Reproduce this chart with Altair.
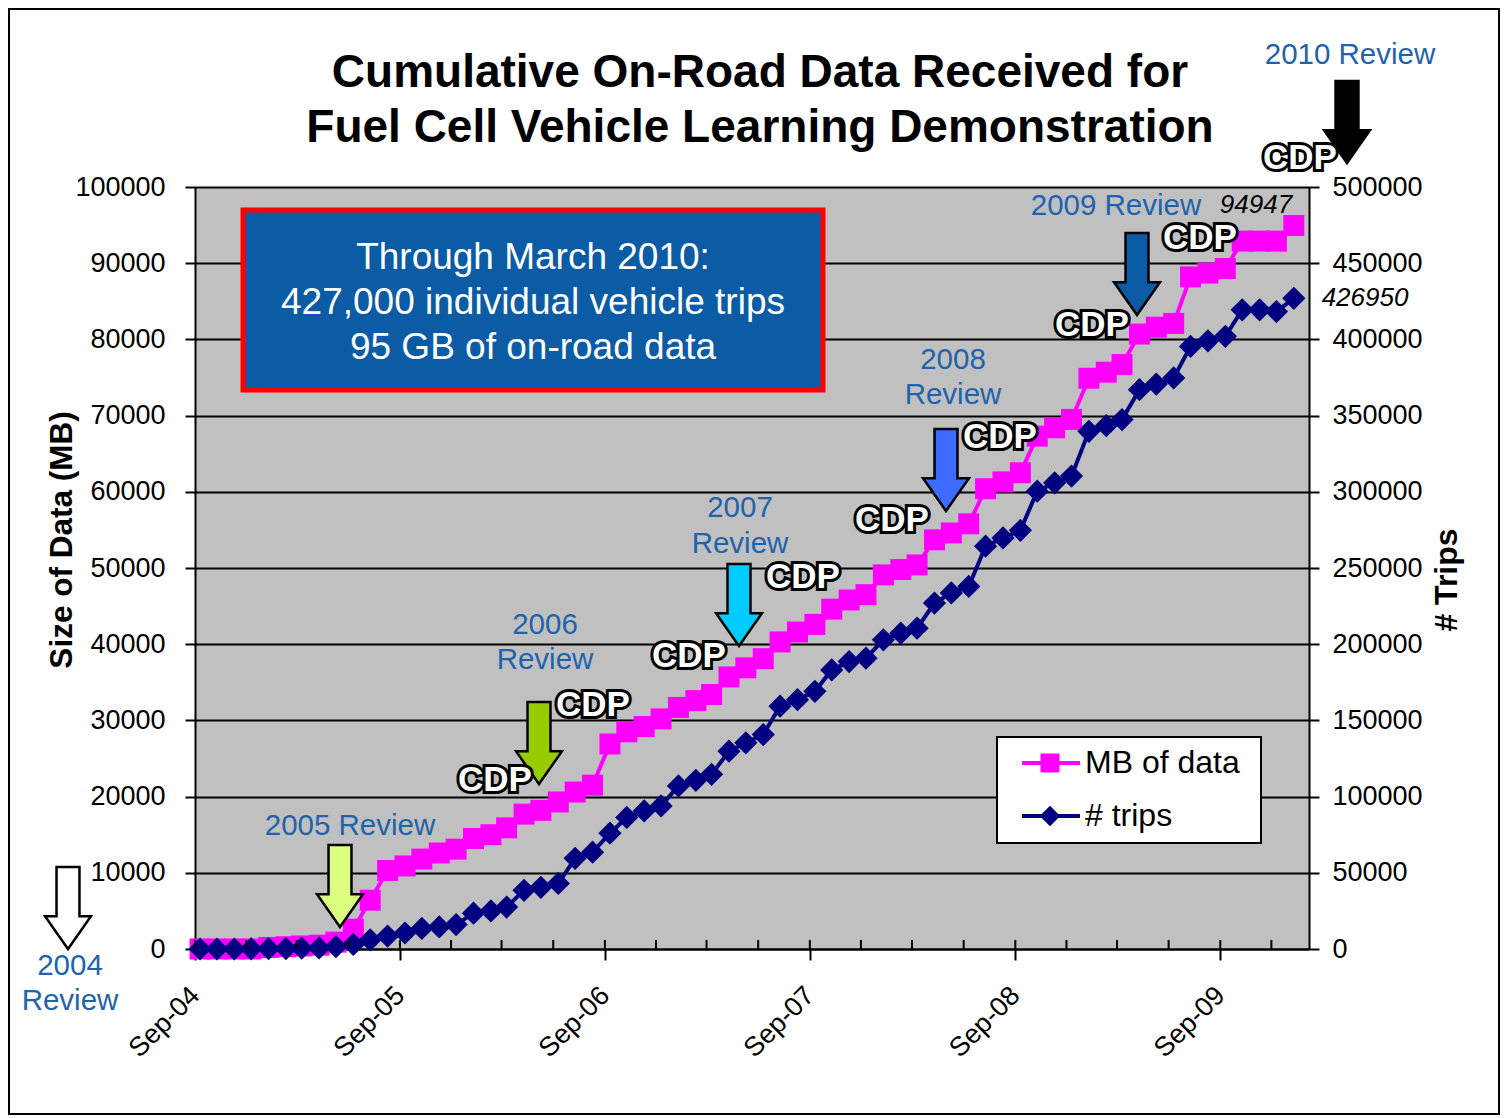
import altair as alt
import pandas as pd

# ---------------- data ----------------
months = [d.strftime("%Y-%m-10T00:00:00")
          for d in pd.date_range("2004-09-01", periods=65, freq="MS")]

mb_data = [0, 0, 0, 0, 200, 300, 400, 500, 900, 2600, 6400, 10300, 10900,
           11800, 12600, 13100, 14500, 15000, 15900, 17700, 18200, 19300, 20600, 21500,
           26900, 28500, 29200, 30200, 31700, 32600, 33400, 35700, 36900, 38100, 40300, 41600,
           42600, 44600, 45800, 46500, 49100, 49800, 50400, 53700, 54600, 55800, 60400, 61300,
           62500, 67300, 68400, 69500, 74900, 75700, 76700, 80700, 81600, 82100, 88200, 88700,
           89300, 92900, 92900, 92900, 94947]

trips_data = [0, 0, 0, 100, 200, 300, 500, 700, 1500, 3000, 6000, 8500, 10500,
              13500, 14500, 16000, 23500, 25000, 27500, 38500, 40500, 43000, 59500, 63500,
              76000, 86300, 90600, 93900, 107000, 110700, 114600, 129800, 135300, 140700, 159300, 163600,
              169100, 183100, 188600, 190800, 202900, 207200, 210500, 227000, 233600, 237900, 264300, 269700,
              274700, 300400, 305900, 310300, 339700, 343400, 347400, 367000, 370700, 374700, 395400, 399100,
              402000, 419400, 419400, 418300, 426950]

series_names = ["MB of data", "# trips"]
title_lines = ["Cumulative On-Road Data Received for",
               "Fuel Cell Vehicle Learning Demonstration"]
box_lines = ["Through March 2010:", "427,000 individual vehicle trips", "95 GB of on-road data"]
mb_ticks = list(range(0, 100001, 10000))
trip_ticks = list(range(0, 500001, 50000))
minor_tick_dates = [d.strftime("%Y-%m-01T00:00:00")
                    for d in pd.date_range("2004-09-01", "2009-12-01", freq="3MS")]

df = pd.DataFrame({"date": months, "mb": mb_data, "trips": trips_data})
ticks_df = pd.DataFrame({"date": minor_tick_dates})
anchor = pd.DataFrame({"k": [0]})

# ---------------- layout ----------------
W, H = 1114, 762
FONT = "Liberation Sans"
CDP_FONT = "'Liberation Sans Narrow', 'Arial Narrow', 'Liberation Sans'"
REVIEW = "#1F63AD"
ARROW = "M -0.28 -1 L 0.28 -1 L 0.28 0.2 L 0.56 0.2 L 0 1 L -0.56 0.2 L -0.28 0.2 Z"

x_scale = alt.Scale(domain=[alt.DateTime(year=2004, month=9, date=1),
                            alt.DateTime(year=2010, month=2, date=6)], nice=False)
x_axis = alt.Axis(values=[alt.DateTime(year=y, month=9, date=1) for y in range(2004, 2010)],
                  format="%b-%y", labelAngle=-45, labelAlign="right", labelBaseline="middle",
                  tickSize=11, tickWidth=2, tickColor="black",
                  domainColor="black", domainWidth=2, labelFont=FONT, labelFontSize=27,
                  labelColor="black", labelPadding=31, grid=False, title=None)
x_enc = alt.X("date:T", scale=x_scale, axis=x_axis)

y_mb = alt.Y("mb:Q", scale=alt.Scale(domain=[0, 100000], nice=False),
             axis=alt.Axis(values=mb_ticks, orient="left", grid=True, gridColor="black",
                           gridWidth=2, gridOpacity=1, tickSize=10, tickWidth=2, tickColor="black",
                           domainColor="black", domainWidth=2, labelFont=FONT, labelFontSize=27,
                           labelColor="black", labelPadding=20, title=None, format="d"))
y_tr = alt.Y("trips:Q", scale=alt.Scale(domain=[0, 500000], nice=False),
             axis=alt.Axis(values=trip_ticks, orient="right", grid=False, tickSize=10, tickWidth=2,
                           tickColor="black", domainColor="black", domainWidth=2, labelFont=FONT,
                           labelFontSize=27, labelColor="black", labelPadding=13, title=None,
                           format="d"))

mb_line = alt.Chart(df).mark_line(color="#FF00FF", strokeWidth=4).encode(x=x_enc, y=y_mb)
mb_pts = alt.Chart(df).mark_point(shape="square", filled=True, color="#FF00FF", size=440,
                                  opacity=1).encode(x=x_enc, y=y_mb)
tr_line = alt.Chart(df).mark_line(color="#000080", strokeWidth=4).encode(x=x_enc, y=y_tr)
tr_pts = alt.Chart(df).mark_point(shape="diamond", filled=True, color="#000080", size=540,
                                  opacity=1).encode(x=x_enc, y=y_tr)

inner_ticks = alt.Chart(ticks_df).mark_rule(color="black", strokeWidth=2).encode(
    x=x_enc, y=alt.value(H - 9), y2=alt.value(H))


def txt(text, x, y, size, color="black", **kw):
    kw.setdefault("font", FONT)
    return alt.Chart(anchor).mark_text(text=text, fontSize=size, color=color, **kw).encode(
        x=alt.value(x), y=alt.value(y))


def arrow(x, y, color):
    return alt.Chart(anchor).mark_point(shape=ARROW, filled=True, fill=color, stroke="black",
                                        strokeWidth=2.5, size=6724, opacity=1,
                                        fillOpacity=1, strokeOpacity=1).encode(
        x=alt.value(x), y=alt.value(y))


def cdp(x, y):
    return [txt("CDP", x, y, 35, color="black", stroke="black", strokeWidth=6,
                font=CDP_FONT, fontWeight="bold"),
            txt("CDP", x, y, 35, color="white", font=CDP_FONT, fontWeight="bold")]


def box(x1, x2, y1, y2, fill, stroke, sw):
    return alt.Chart(anchor).mark_rect(fill=fill, stroke=stroke, strokeWidth=sw).encode(
        x=alt.value(x1), x2=alt.value(x2), y=alt.value(y1), y2=alt.value(y2))


ann = []
# outer frame
ann.append(alt.Chart(anchor).mark_rect(fillOpacity=0, stroke="black", strokeWidth=2).encode(
    x=alt.value(-186), x2=alt.value(1304), y=alt.value(-178), y2=alt.value(927)))
# title
ann.append(txt(title_lines[0], 565, -114, 46, fontWeight="bold"))
ann.append(txt(title_lines[1], 565, -59, 46, fontWeight="bold"))
# axis titles
ann.append(txt("Size of Data (MB)", -132, 353, 31.5, fontWeight="bold", angle=270))
ann.append(txt("# Trips", 1252, 393, 32, fontWeight="bold", angle=270))
# info box
ann.append(box(48, 628, 23, 203, "#0B5BA5", "#FF0000", 5))
for i, line in enumerate(box_lines):
    ann.append(txt(line, 338, 71 + 45 * i, 37, color="white"))
# reviews and arrows
RS = 29.5
ann.append(txt("2010 Review", 1155, -132, RS, color=REVIEW))
ann.append(arrow(1152, -65, "black"))
ann.append(txt("2009 Review", 921, 19, RS, color=REVIEW))
ann.append(arrow(942, 87, "#0D5AA7"))
ann.append(txt("2008", 758, 173, RS, color=REVIEW))
ann.append(txt("Review", 758, 208, RS, color=REVIEW))
ann.append(arrow(751, 283, "#3D6BFF"))
ann.append(txt("2007", 545, 321, RS, color=REVIEW))
ann.append(txt("Review", 545, 357, RS, color=REVIEW))
ann.append(arrow(544, 418, "#00CCFF"))
ann.append(txt("2006", 350, 438, RS, color=REVIEW))
ann.append(txt("Review", 350, 473, RS, color=REVIEW))
ann.append(arrow(344, 556, "#99CC00"))
ann.append(txt("2005 Review", 155, 639, RS, color=REVIEW))
ann.append(arrow(145, 699, "#DDFF80"))
ann.append(txt("2004", -125, 779, RS, color=REVIEW))
ann.append(txt("Review", -125, 814, RS, color=REVIEW))
ann.append(arrow(-127, 721, "white"))
# CDP labels
for cx, cy in [(1105, -29), (1005, 51), (897, 138), (805, 250), (697, 333),
               (608, 390), (494, 469), (398, 518), (300, 593)]:
    ann.extend(cdp(cx, cy))
# end values
ann.append(txt("94947", 1061, 18, 26, fontStyle="italic"))
ann.append(txt("426950", 1170, 111, 26, fontStyle="italic"))
# legend
ann.append(box(802, 1066, 550, 656, "white", "black", 2))
ann.append(alt.Chart(anchor).mark_rule(color="#FF00FF", strokeWidth=4).encode(
    x=alt.value(827), x2=alt.value(885), y=alt.value(576)))
ann.append(alt.Chart(anchor).mark_point(shape="square", filled=True, color="#FF00FF", size=360,
                                        opacity=1).encode(x=alt.value(855), y=alt.value(576)))
ann.append(txt(series_names[0], 890, 576, 32, align="left"))
ann.append(alt.Chart(anchor).mark_rule(color="#000080", strokeWidth=4).encode(
    x=alt.value(827), x2=alt.value(885), y=alt.value(629)))
ann.append(alt.Chart(anchor).mark_point(shape="diamond", filled=True, color="#000080", size=420,
                                        opacity=1).encode(x=alt.value(855), y=alt.value(629)))
ann.append(txt(series_names[1], 890, 629, 32, align="left"))

data_layers = alt.layer(
    alt.layer(mb_line, mb_pts),
    alt.layer(tr_line, tr_pts),
).resolve_scale(y="independent")

chart = alt.layer(data_layers, inner_ticks, *ann).properties(
    width=W, height=H,
    autosize=alt.AutoSizeParams(type="none"),
    padding={"left": 187, "top": 179, "right": 192, "bottom": 167},
    background="white",
).configure_view(fill="#C0C0C0", stroke=None)

chart.save("out.html", embed_options={"renderer": "svg", "actions": False})
